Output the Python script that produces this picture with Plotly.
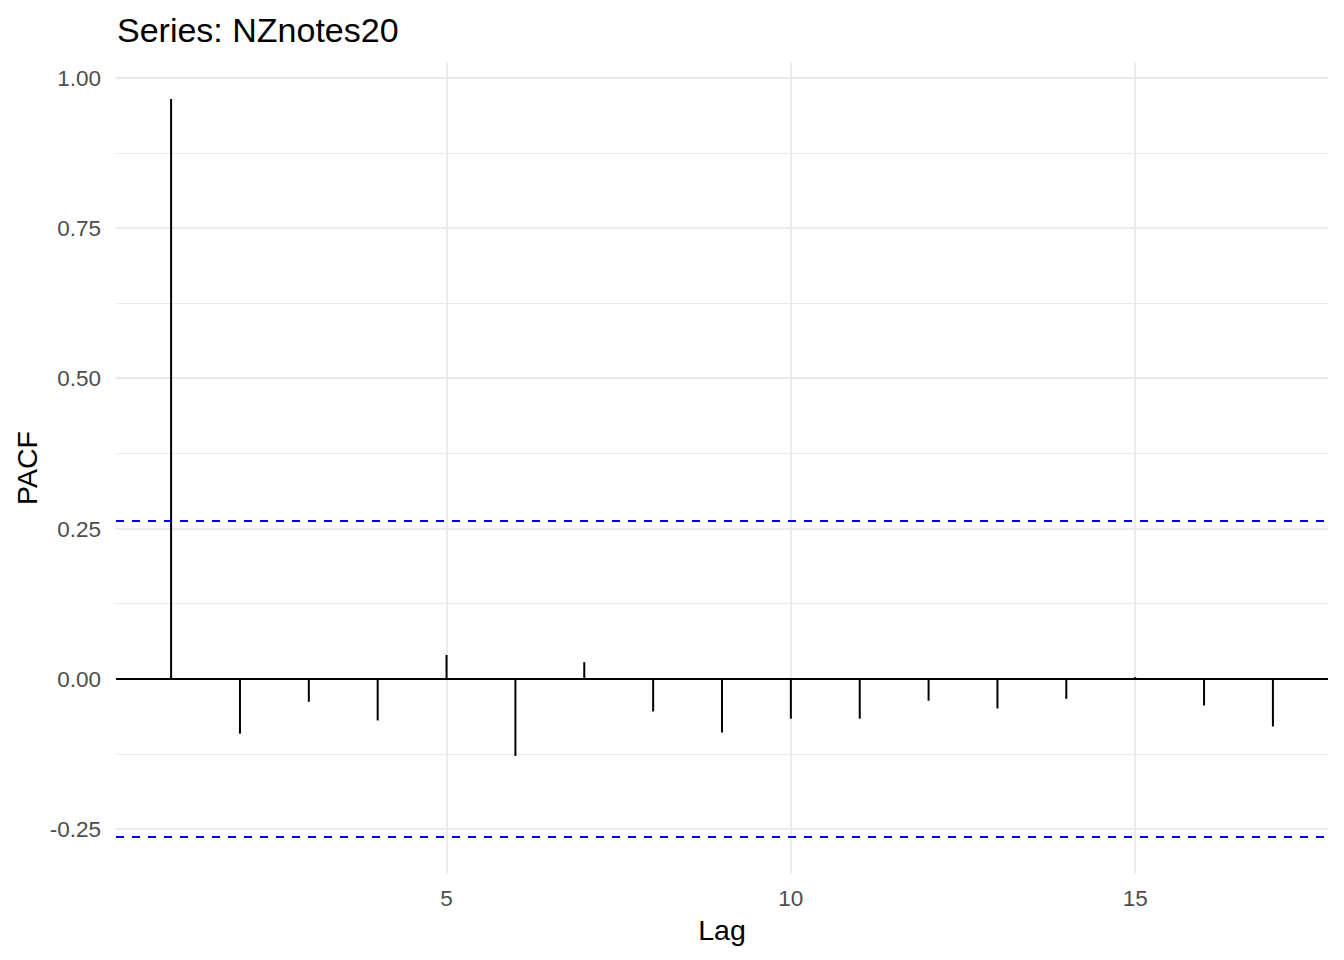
import plotly.graph_objects as go

# Data
lags = list(range(1, 18))
pacf_values = [0.965, -0.091, -0.038, -0.069, 0.040, -0.128, 0.028, -0.054,
               -0.089, -0.066, -0.066, -0.036, -0.049, -0.033, 0.003, -0.044, -0.079]
ci_level = 0.263
series_name = "NZnotes20"
y_ticks = [-0.25, 0.0, 0.25, 0.5, 0.75, 1.0]
x_ticks = [5, 10, 15]

FONT = "Liberation Sans, Arial, sans-serif"

# Build stems
xs, ys = [], []
for lag, v in zip(lags, pacf_values):
    xs += [lag, lag, None]
    ys += [0, v, None]

fig = go.Figure()
fig.add_trace(go.Scatter(x=xs, y=ys, mode="lines",
                         line=dict(color="black", width=2),
                         hoverinfo="skip", showlegend=False))

x_lo = min(lags) - 0.05 * (max(lags) - min(lags))
x_hi = max(lags) + 0.05 * (max(lags) - min(lags))
for c in (ci_level, -ci_level):
    fig.add_trace(go.Scatter(x=[x_lo, x_hi], y=[c, c], mode="lines",
                             line=dict(color="#0000FF", width=2, dash="8px,8px"),
                             hoverinfo="skip", showlegend=False))

ymin = min(min(pacf_values), -ci_level)
ymax = max(max(pacf_values), ci_level)
pad = 0.05 * (ymax - ymin)

fig.update_layout(
    width=1344, height=960,
    paper_bgcolor="white", plot_bgcolor="white",
    margin=dict(l=116, r=16, t=62, b=86),
    font=dict(family=FONT, color="black"),
    title=dict(text=f"Series: {series_name}", x=117 / 1344, xanchor="left",
               xref="container", y=1 - 30 / 960, yanchor="middle", yref="container",
               font=dict(size=34, color="black", family=FONT)),
    xaxis=dict(range=[x_lo, x_hi], tickvals=x_ticks, ticktext=[str(t) for t in x_ticks],
               showgrid=True, gridcolor="#EBEBEB", gridwidth=2,
               zeroline=False, showline=False, ticks="",
               tickfont=dict(size=22.5, color="#4D4D4D", family=FONT),
               ticklabelstandoff=8,
               title=dict(text="Lag", font=dict(size=28.5, color="black", family=FONT),
                          standoff=10)),
    yaxis=dict(range=[ymin - pad, ymax + pad], tickvals=y_ticks,
               ticktext=[f"{t:.2f}" for t in y_ticks],
               showgrid=True, gridcolor="#EBEBEB", gridwidth=2,
               minor=dict(tickvals=[-0.125, 0.125, 0.375, 0.625, 0.875],
                          showgrid=True, gridcolor="#EBEBEB", gridwidth=1),
               zeroline=True, zerolinecolor="black", zerolinewidth=2,
               showline=False, ticks="",
               tickfont=dict(size=22.5, color="#4D4D4D", family=FONT),
               ticklabelstandoff=14,
               title=dict(text="PACF", font=dict(size=28.5, color="black", family=FONT),
                          standoff=3)),
)

fig.write_html("out.html")
